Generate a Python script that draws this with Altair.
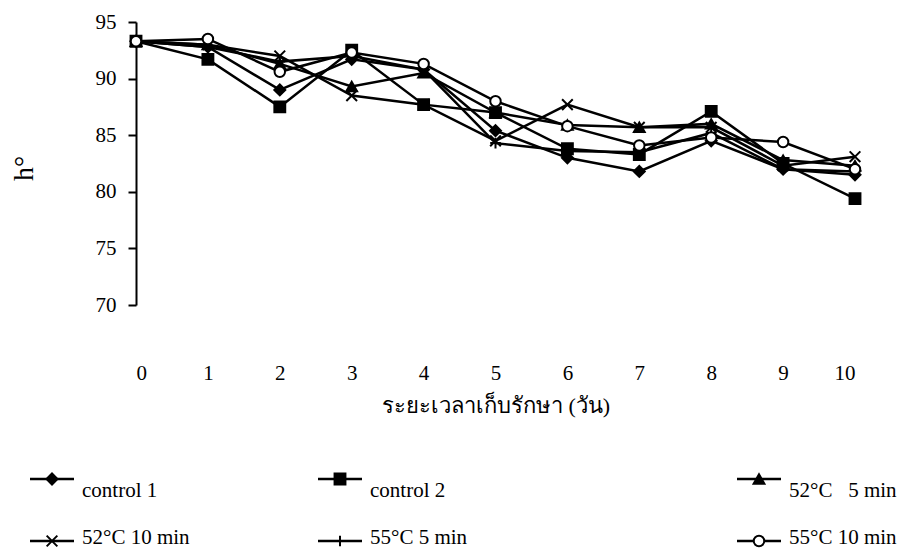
import altair as alt
import pandas as pd

# Storage time (days) and hue angle h° for each treatment
days = list(range(11))
series_names = ["control 1", "control 2", "52°C 5 min", "52°C 10 min", "55°C 5 min", "55°C 10 min"]
control_1 = [93.3, 92.8, 89.0, 91.7, 90.8, 85.4, 83.0, 81.8, 84.5, 82.0, 81.5]
control_2 = [93.3, 91.7, 87.5, 92.5, 87.7, 87.0, 83.8, 83.3, 87.1, 82.5, 79.4]
t52_5 = [93.3, 93.0, 91.3, 89.3, 90.5, 87.0, 85.9, 85.7, 86.0, 82.8, 82.3]
t52_10 = [93.3, 93.0, 92.0, 88.5, 87.7, 84.5, 87.7, 85.7, 85.7, 82.3, 83.1]
t55_5 = [93.3, 92.8, 91.5, 92.0, 90.8, 84.3, 83.6, 83.5, 85.2, 82.0, 81.8]
t55_10 = [93.3, 93.5, 90.6, 92.3, 91.3, 88.0, 85.8, 84.1, 84.8, 84.4, 82.0]

legend_text = ["control 1", "control 2", "52°C\u00a0\u00a0\u00a05 min",
               "52°C 10 min", "55°C 5 min", "55°C 10 min"]
legend_col = [0, 1, 2, 0, 1, 2]
legend_row = [0, 0, 0, 1, 1, 1]

all_values = [control_1, control_2, t52_5, t52_10, t55_5, t55_10]
rows = []
for name, vals in zip(series_names, all_values):
    for d, v in zip(days, vals):
        rows.append({"day": d, "h": v, "series": name})
df = pd.DataFrame(rows)

leg = pd.DataFrame({"series": series_names, "label": legend_text,
                    "col": legend_col, "row": legend_row})

FONT = "'Liberation Serif', 'Times New Roman', Times, serif"
X_PATH = "M-1,-1L1,1M-1,1L1,-1"
PLUS_PATH = "M-1,0L1,0M0,-1L0,1"

shape_scale = alt.Scale(domain=series_names,
                        range=["diamond", "square", "triangle-up", X_PATH, PLUS_PATH, "circle"])
fill_scale = alt.Scale(domain=series_names,
                       range=["black", "black", "black", "transparent", "transparent", "white"])
size_scale = alt.Scale(domain=series_names, range=[120, 110, 120, 100, 120, 100])

x_enc = alt.X("day:Q", scale=alt.Scale(domain=[0, 10], nice=False, zero=False),
              axis=alt.Axis(values=days, title="ระยะเวลาเก็บรักษา (วัน)", grid=False,
                            domain=False, ticks=False, labelPadding=57,
                            labelFontSize=21, labelFont=FONT, labelColor="black",
                            titleFontSize=22, titleFont=FONT, titleFontWeight="normal",
                            titleColor="black", titlePadding=12))
y_enc = alt.Y("h:Q", scale=alt.Scale(domain=[70, 95], nice=False, zero=False),
              axis=alt.Axis(values=[70, 75, 80, 85, 90, 95], title="h°", grid=False,
                            domainColor="black", domainWidth=2, tickColor="black",
                            tickWidth=2, tickSize=8, labelPadding=12, labelFontSize=21,
                            labelFont=FONT, labelColor="black", titleFontSize=28,
                            titleFont=FONT, titleFontWeight="normal", titleColor="black",
                            titleAngle=-90, titleX=-112, titleY=146,
                            titleAlign="center", titleBaseline="middle"))

lines = alt.Chart(df).mark_line(color="black", strokeWidth=2.5).encode(
    x=x_enc, y=y_enc, detail="series:N")

points = alt.Chart(df).mark_point(stroke="black", strokeWidth=2, opacity=1).encode(
    x=x_enc, y=y_enc,
    shape=alt.Shape("series:N", scale=shape_scale, legend=None),
    fill=alt.Fill("series:N", scale=fill_scale, legend=None),
    size=alt.Size("series:N", scale=size_scale, legend=None))

main = alt.layer(lines, points)

# Hand-built legend below the plot: two rows by three columns
lx = alt.X("col:Q", scale=alt.Scale(domain=[0, 1, 2], range=[-84, 204, 623]), axis=None)
ly = alt.Y("row:Q", scale=alt.Scale(domain=[0, 1], range=[457, 519]), axis=None)

leg_lines = alt.Chart(leg).mark_tick(orient="horizontal", size=44, thickness=2.5,
                                     color="black", opacity=1).encode(x=lx, y=ly)
leg_points = alt.Chart(leg).mark_point(stroke="black", strokeWidth=2, opacity=1).encode(
    x=lx, y=ly,
    shape=alt.Shape("series:N", scale=shape_scale, legend=None),
    fill=alt.Fill("series:N", scale=fill_scale, legend=None),
    size=alt.Size("series:N", scale=size_scale, legend=None))
leg_text_top = alt.Chart(leg).transform_filter("datum.row == 0").mark_text(
    align="left", baseline="middle", dx=30, dy=12, font=FONT, fontSize=21,
    color="black").encode(x=lx, y=ly, text="label:N")
leg_text_bottom = alt.Chart(leg).transform_filter("datum.row == 1").mark_text(
    align="left", baseline="middle", dx=30, dy=-3, font=FONT, fontSize=21,
    color="black").encode(x=lx, y=ly, text="label:N")

legend = alt.layer(leg_lines, leg_points, leg_text_top, leg_text_bottom)

chart = alt.layer(main, legend).resolve_scale(x="independent", y="independent").properties(
    width=719, height=283,
    autosize=alt.AutoSizeParams(type="none"),
    padding={"left": 136, "top": 22, "right": 68, "bottom": 251},
    background="white",
).configure_view(stroke=None)

chart.save("out.html", embed_options={"renderer": "svg", "actions": False})
